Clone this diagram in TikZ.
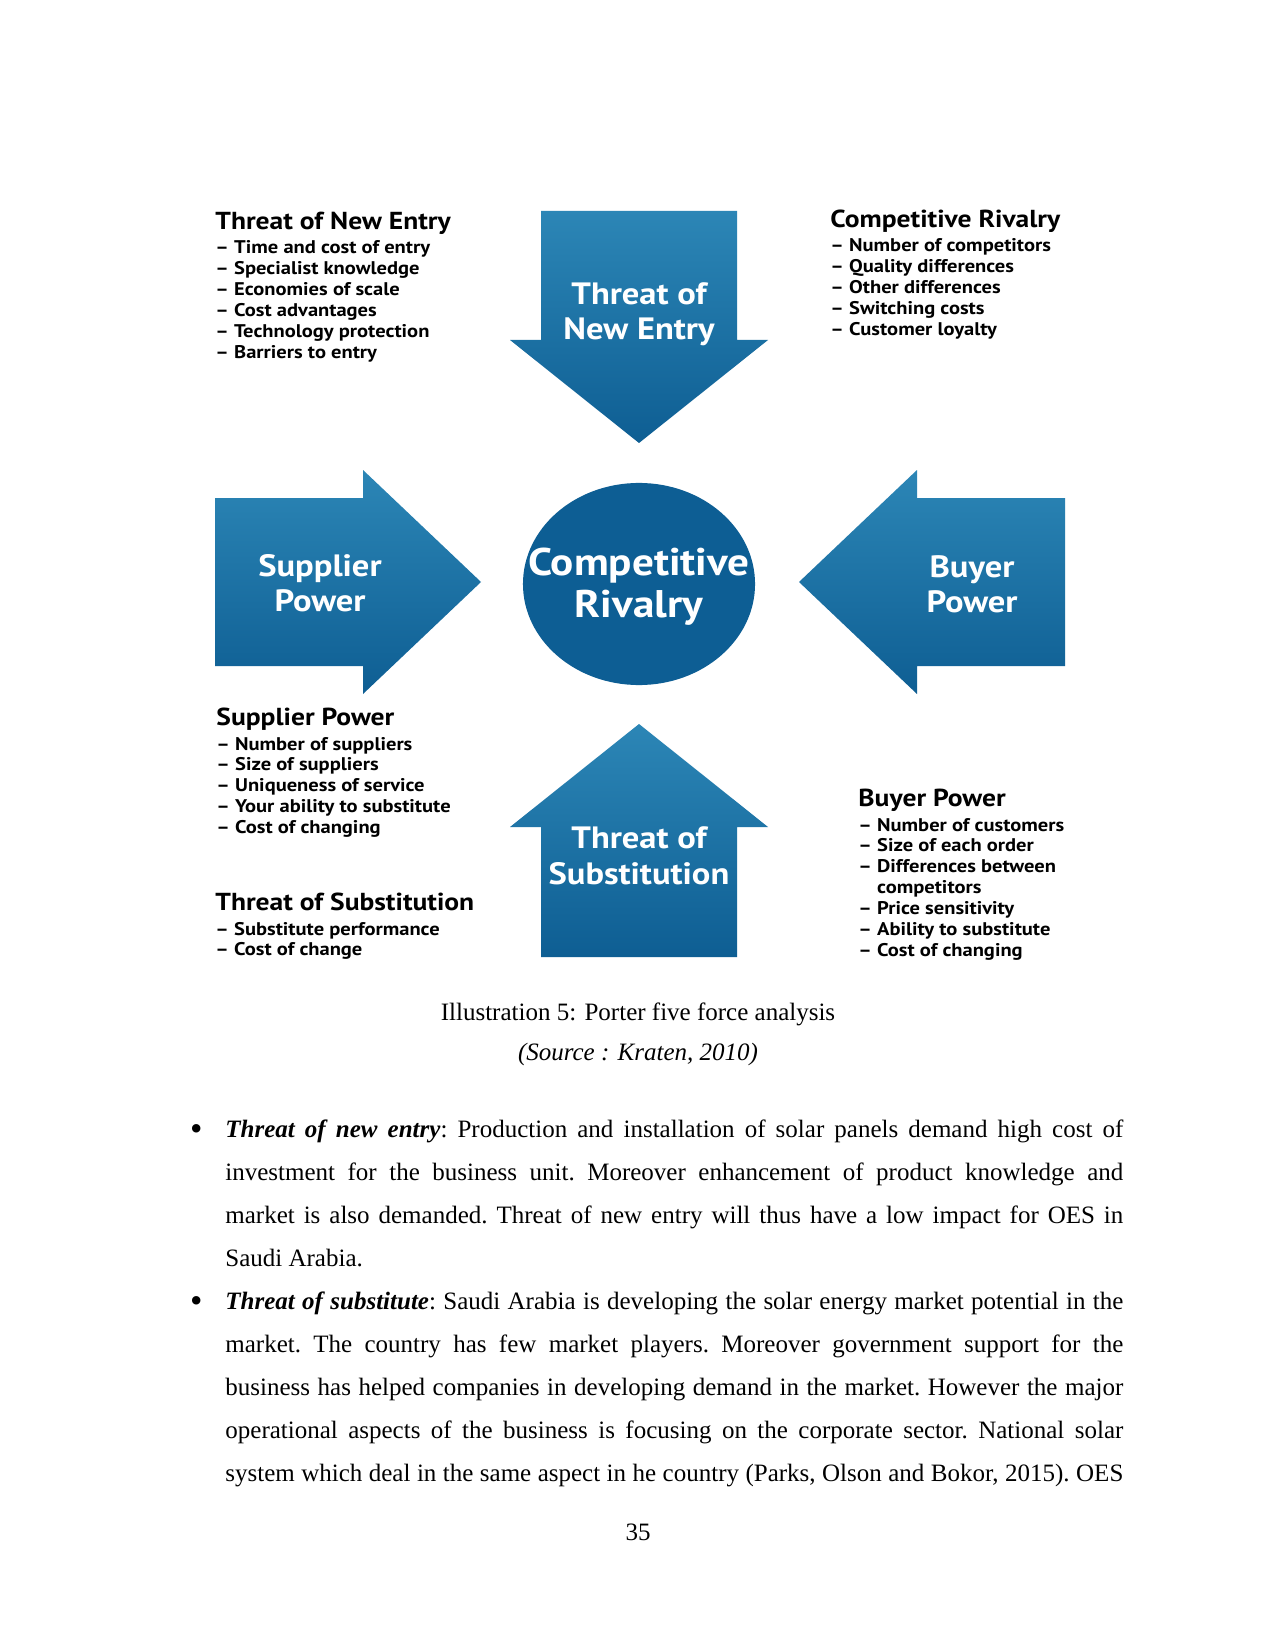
\documentclass[tikz,border=0pt]{standalone}
\usepackage{fontspec}
\setmainfont{Liberation Serif}
\newfontfamily\diagfont{PT Sans}[FakeStretch=1.12]
\usetikzlibrary{shapes.geometric}
\definecolor{arrtop}{RGB}{44,134,182}
\definecolor{arrbot}{RGB}{14,94,147}
\definecolor{circ}{RGB}{13,94,148}
\tikzset{
  arrowshape/.style={top color=arrtop, bottom color=arrbot, draw=none},
  arrowtext/.style={text=white, font=\diagfont\bfseries\fontsize{14.8}{17}\selectfont, align=center, inner sep=0},
  crtext/.style={text=white, font=\diagfont\bfseries\fontsize{18.5}{20}\selectfont, align=center, inner sep=0},
  heading/.style={anchor=base west, inner sep=0, font=\diagfont\bfseries\fontsize{11.8}{13}\selectfont},
  items/.style={anchor=base west, inner sep=0, font=\diagfont\bfseries\fontsize{8.8}{10}\selectfont},
  bodytext/.style={inner sep=0, font=\fontsize{12}{20.64}\selectfont}
}
\newcommand{\itemlist}[1]{\begin{tabular}[t]{@{}l@{\hspace{2.5pt}}l@{}}#1\end{tabular}}
\newcommand{\bigbullet}{\leavevmode\llap{\raisebox{-1.5pt}{\fontsize{17}{17}\selectfont\textbullet}\hspace{11pt}}}
\begin{document}
\begin{tikzpicture}[x=0.48pt, y=-0.48pt]
\fill[white] (0,0) rectangle (1275,1650);
\useasboundingbox (0,0) rectangle (1275,1650);

% arrows
\shade[arrowshape] (541,211) -- (737,211) -- (737,340) -- (768,340) -- (639,443) -- (510,340) -- (541,340) -- cycle;
\shade[arrowshape] (541,957) -- (737,957) -- (737,827) -- (768,827) -- (639,724) -- (510,827) -- (541,827) -- cycle;
\shade[arrowshape] (215,498) -- (363,498) -- (363,470) -- (481,582) -- (363,694) -- (363,666) -- (215,666) -- cycle;
\shade[arrowshape] (1065,498) -- (917,498) -- (917,470) -- (799,582) -- (917,694) -- (917,666) -- (1065,666) -- cycle;
\node[ellipse, fill=circ, minimum width=111.4pt, minimum height=97pt, inner sep=0] (cr) at (639,584) {};

\node[arrowtext] (tne) at (639,314) {Threat of\\New Entry};
\node[arrowtext] (sp) at (320,583) {Supplier\\Power};
\node[arrowtext] (bp) at (972,584) {Buyer\\Power};
\node[arrowtext] (ts) at (639,856) {Threat of\\Substitution};
\node[crtext] (crt) at (639,587) {Competitive\\Rivalry};

% text blocks
\node[heading] (h1) at (215,230) {Threat of New Entry};
\node[items] (l1) at (215,254) {\itemlist{– & Time and cost of entry\\ – & Specialist knowledge\\ – & Economies of scale\\ – & Cost advantages\\ – & Technology protection\\ – & Barriers to entry}};

\node[heading] (h2) at (830,228) {Competitive Rivalry};
\node[items] (l2) at (830,252) {\itemlist{– & Number of competitors\\ – & Quality differences\\ – & Other differences\\ – & Switching costs\\ – & Customer loyalty}};

\node[heading] (h3) at (216,725) {Supplier Power};
\node[items] (l3) at (216,750) {\itemlist{– & Number of suppliers\\ – & Size of suppliers\\ – & Uniqueness of service\\ – & Your ability to substitute\\ – & Cost of changing}};

\node[heading] (h4) at (215,910) {Threat of Substitution};
\node[items] (l4) at (215,935) {\itemlist{– & Substitute performance\\ – & Cost of change}};

\node[heading] (h5) at (858,806) {Buyer Power};
\node[items] (l5) at (858,831) {\itemlist{– & Number of customers\\ – & Size of each order\\ – & Differences between\\ & competitors\\ – & Price sensitivity\\ – & Ability to substitute\\ – & Cost of changing}};

% caption
\node[bodytext, anchor=base] (cap) at (638,1020) {Illustration 5: Porter five force analysis};
\node[bodytext, anchor=base] (src) at (638,1060) {\itshape (Source : Kraten, 2010)};

% body
\node[bodytext, anchor=base west] (body) at (225,1137) {\begin{minipage}[t]{431pt}%
\tolerance=9999 \hyphenpenalty=10000 \parskip=0pt \frenchspacing
\bigbullet\textbf{\textit{Threat of new entry}}: Production and installation of solar panels demand high cost of\linebreak
investment for the business unit. Moreover enhancement of product knowledge and\linebreak
market is also demanded. Threat of new entry will thus have a low impact for OES in\linebreak
Saudi Arabia.\par
{\parfillskip=0pt \bigbullet\textbf{\textit{Threat of substitute}}: Saudi Arabia is developing the solar energy market potential in the\linebreak
market. The country has few market players. Moreover government support for the\linebreak
business has helped companies in developing demand in the market. However the major\linebreak
operational aspects of the business is focusing on the corporate sector. National solar\linebreak
system which deal in the same aspect in he country (Parks, Olson and Bokor, 2015). OES\par}
\end{minipage}};

\node[bodytext, anchor=base] (pg) at (638,1540) {35};
\end{tikzpicture}
\end{document}
